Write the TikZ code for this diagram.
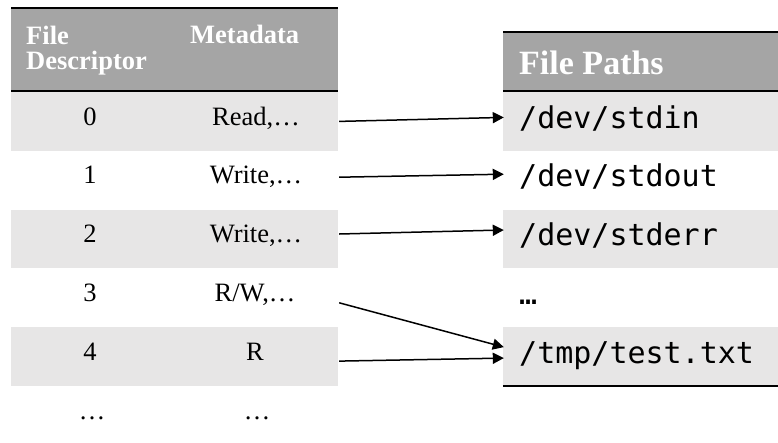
\documentclass[tikz,border=0pt]{standalone}
\usepackage{fontspec}
\setmainfont{Liberation Serif}
\setmonofont{DejaVu Sans Mono}
\usetikzlibrary{positioning,arrows.meta,calc}
\definecolor{headgray}{HTML}{A5A5A5}
\definecolor{rowgray}{HTML}{E7E6E6}

\begin{document}
\begin{tikzpicture}[
  x=1pt, y=-1pt,
  every node/.style={font=\fontsize{26.5}{30}\selectfont, inner sep=0pt},
  lrow/.style={minimum width=327, minimum height=58.8, fill=#1},
  lrow/.default=white,
  rrow/.style={minimum width=275, minimum height=58.8, fill=#1},
  rrow/.default=white,
  headtext/.style={text=white, font=\fontsize{26.5}{25}\selectfont\bfseries, align=left},
  pathtext/.style={anchor=base west, font=\fontsize{30}{34}\ttfamily},
  cell/.style={anchor=base},
  rule/.style={line width=2.5},
  arrow/.style={-{Triangle[length=11, width=11]}, line width=1.5},
]
  \useasboundingbox (0,0) rectangle (778,442);

  % descriptor table
  \fill[headgray] (11,8) rectangle (338,91);
  \draw[rule] (11,8) -- (338,8);
  \draw[rule] (11,91) -- (338,91);
  \node[headtext, anchor=north west] (fdhead) at (26,25.5) {File\\Descriptor};
  \node[headtext, anchor=base west] (mdhead) at (190,43) {Metadata};

  \node[lrow=rowgray] (l0) at (174.5,121.4) {};
  \node[lrow]         (l1) at (174.5,180.2) {};
  \node[lrow=rowgray] (l2) at (174.5,239.0) {};
  \node[lrow]         (l3) at (174.5,297.8) {};
  \node[lrow=rowgray] (l4) at (174.5,356.6) {};

  \node[cell] (fd0) at (90,125.0) {0};
  \node[cell] (fd1) at (90,183.8) {1};
  \node[cell] (fd2) at (90,242.6) {2};
  \node[cell] (fd3) at (90,301.4) {3};
  \node[cell] (fd4) at (90,360.2) {4};
  \node[cell] (fdmore) at (92,419.0) {…};

  \node[cell] (md0) at (256,125.0) {Read,…};
  \node[cell] (md1) at (256,183.8) {Write,…};
  \node[cell] (md2) at (256,242.6) {Write,…};
  \node[cell] (md3) at (255,301.4) {R/W,…};
  \node[cell] (md4) at (255,360.2) {R};
  \node[cell] (mdmore) at (257,419.0) {…};

  % path table
  \fill[headgray] (503,32) rectangle (778,91);
  \draw[rule] (503,32) -- (778,32);
  \draw[rule] (503,91) -- (778,91);
  \node[headtext, anchor=base west, font=\fontsize{34}{40}\selectfont\bfseries] (pathhead) at (519,74) {File Paths};

  \node[rrow=rowgray] (r0) at (640.5,121.4) {};
  \node[rrow]         (r1) at (640.5,180.2) {};
  \node[rrow=rowgray] (r2) at (640.5,239.0) {};
  \node[rrow]         (r3) at (640.5,297.8) {};
  \node[rrow=rowgray] (r4) at (640.5,356.6) {};
  \draw[rule] (r4.south west) -- (r4.south east);

  \node[pathtext] (p0) at (519,128.0) {/dev/stdin};
  \node[pathtext] (p1) at (519,186.8) {/dev/stdout};
  \node[pathtext] (p2) at (519,245.6) {/dev/stderr};
  \node[pathtext] (p3) at (519,304.0) {…};
  \node[pathtext] (p4) at (519,363.2) {/tmp/test.txt};

  \draw[arrow] ($(l0.east)+(1,0)$)  -- ($(r0.west)+(1,-4)$);
  \draw[arrow] ($(l1.east)+(1,-3)$) -- ($(r1.west)+(1,-6)$);
  \draw[arrow] ($(l2.east)+(1,-5)$) -- ($(r2.west)+(1,-9)$);
  \draw[arrow] ($(l3.east)+(1,5)$)  -- ($(r4.west)+(1,-9.5)$);
  \draw[arrow] ($(l4.east)+(1,4.5)$) -- ($(r4.west)+(1,1.5)$);
\end{tikzpicture}
\end{document}
